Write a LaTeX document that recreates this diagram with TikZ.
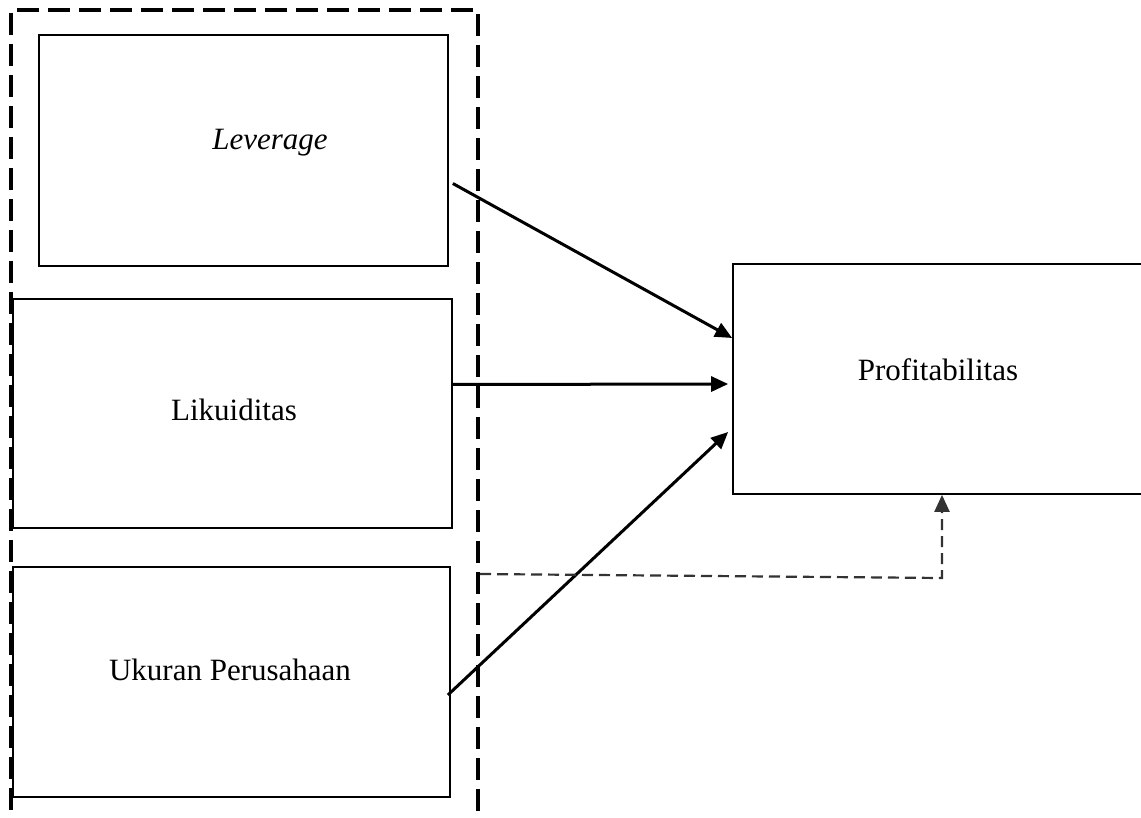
\documentclass[tikz,border=0pt]{standalone}
\usepackage{fontspec}
\setmainfont{Liberation Serif}
\usetikzlibrary{arrows.meta,calc}
\begin{document}
\begin{tikzpicture}[x=1pt,y=-1pt,
  varbox/.style={draw=black,line width=1.7pt,rectangle,inner sep=0pt,font=\fontsize{31}{37}\selectfont},
  groupbox/.style={draw=black,line width=3.6pt,dash pattern=on 22pt off 9pt,rectangle,inner sep=0pt},
  conn/.style={draw=black,line width=3pt,-{Triangle[length=17pt,width=15pt]}},
  modconn/.style={draw=black!80,line width=2.2pt,dash pattern=on 11pt off 6pt,-{Triangle[length=17pt,width=15pt]}}]
\useasboundingbox (0,0) rectangle (1141,818);
\fill[white] (0,0) rectangle (1141,818);
% dashed group
\node[groupbox,minimum width=467pt,minimum height=830pt] (grp) at (244.5,425) {};
% variable boxes
\node[varbox,minimum width=409pt,minimum height=231pt] (lev) at (243.5,150.5) {};
\node[font=\fontsize{31}{37}\selectfont\itshape] (levt) at (270,143) {Leverage};
\node[varbox,minimum width=439pt,minimum height=229pt] (liq) at (232.5,413.5) {};
\node[font=\fontsize{31}{37}\selectfont] (liqt) at (234,410) {Likuiditas};
\node[varbox,minimum width=437pt,minimum height=230pt] (size) at (231.5,682) {};
\node[font=\fontsize{31}{37}\selectfont] (sizet) at (230,670) {Ukuran Perusahaan};
\node[varbox,minimum width=410pt,minimum height=230pt] (prof) at (938,379) {};
\node[font=\fontsize{31}{37}\selectfont] (proft) at (938,370) {Profitabilitas};
% connectors
\draw[conn] ($(lev.east)+(4,33)$) -- ($(prof.west)+(0,-41)$);
\draw[conn] ($(liq.east)+(0,-29)$) -- ($(prof.west)+(-4,5)$);
\draw[conn] ($(size.east)+(-3,13)$) -- ($(prof.west)+(-4,53)$);
\coordinate (d1) at (480,574);
\coordinate (d2) at (942,578);
\draw[modconn] (d1) -- (d2) -- (d2 |- prof.south);
\end{tikzpicture}
\end{document}
